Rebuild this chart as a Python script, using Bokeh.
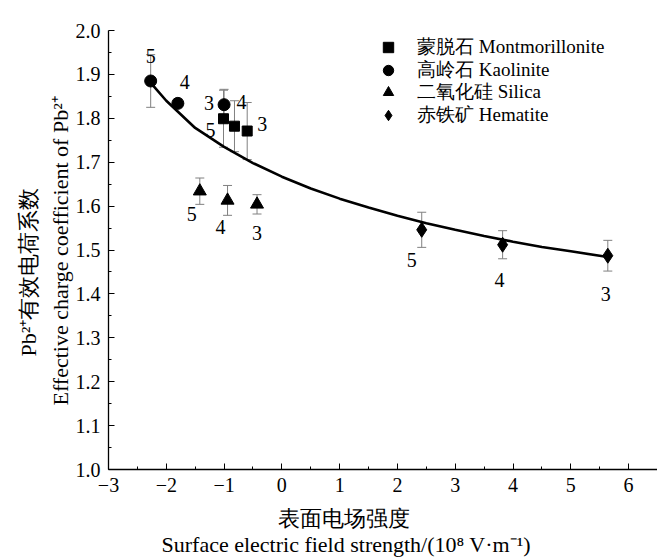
from bokeh.plotting import figure
from bokeh.models import (ColumnDataSource, Whisker, TeeHead, Title, Legend, LegendItem,
                          FixedTicker, Range1d)
from bokeh.embed import file_html
from bokeh.resources import INLINE
from bokeh.core.properties import value

SERIF = "Liberation Serif"

# ---------------- data ----------------
mont_x = [-1.01, -0.82, -0.60]
mont_y = [1.799, 1.782, 1.771]
mont_err = [0.065, 0.058, 0.065]
mont_lbl = ["5", "4", "3"]

kaol_x = [-2.27, -1.80, -1.00]
kaol_y = [1.885, 1.834, 1.831]
kaol_err = [0.06, 0.01, 0.035]
kaol_lbl = ["5", "4", "3"]

sil_x = [-1.42, -0.94, -0.43]
sil_y = [1.634, 1.613, 1.604]
sil_err = [0.03, 0.034, 0.022]
sil_lbl = ["5", "4", "3"]

hem_x = [2.42, 3.82, 5.64]
hem_y = [1.546, 1.512, 1.487]
hem_err = [0.04, 0.032, 0.035]
hem_lbl = ["5", "4", "3"]

fit_x = [-2.25, -2.0, -1.5, -1.0, -0.5, 0.0, 0.5, 1.0, 1.5, 2.0, 2.5, 3.0, 3.5, 4.0, 4.5, 5.0, 5.64]
fit_y = [1.878, 1.840, 1.778, 1.735, 1.698, 1.667, 1.640, 1.617, 1.597, 1.578, 1.561, 1.546,
         1.532, 1.519, 1.507, 1.497, 1.484]

x_ticks = [-3, -2, -1, 0, 1, 2, 3, 4, 5, 6]
y_ticks = [1.0, 1.1, 1.2, 1.3, 1.4, 1.5, 1.6, 1.7, 1.8, 1.9, 2.0]

legend_names = ["蒙脱石 Montmorillonite", "高岭石 Kaolinite", "二氧化硅 Silica", "赤铁矿 Hematite"]

x_title_cn = "表面电场强度"
x_title_en = "Surface electric field strength/(10\u2078 V\u00b7m\u207b\u00b9)"
y_title_cn = "Pb\u00b2\u207a有效电荷系数"
y_title_en = "Effective charge coefficient of Pb\u00b2\u207a"

# label offsets (screen px: right, down) -- styling only
mont_off = [(-13, 11), (7, -24), (15, -7)]
kaol_off = [(0, -25), (7, -21), (-15, -2)]
sil_off = [(-8, 23), (-7, 27), (0, 29)]
hem_off = [(-10, 30), (-3, 35), (-2, 38)]

# ---------------- figure ----------------
p = figure(width=657, height=559, x_range=Range1d(-3, 6.5), y_range=Range1d(1.0, 2.0),
           output_backend="svg", toolbar_location=None,
           min_border_left=108, min_border_right=0, min_border_top=30, min_border_bottom=90)
p.outline_line_color = None
p.grid.visible = False
p.background_fill_color = "white"

for ax in (p.xaxis[0], p.yaxis[0]):
    ax.axis_line_color = "black"
    ax.axis_line_width = 1.3
    ax.major_tick_in = 6
    ax.major_tick_out = 0
    ax.minor_tick_in = 3
    ax.minor_tick_out = 0
    ax.major_tick_line_color = "black"
    ax.minor_tick_line_color = "black"
    ax.major_label_text_font = SERIF
    ax.major_label_text_font_size = "20px"
    ax.major_label_text_color = "black"
    ax.major_label_standoff = 8

p.xaxis.ticker = FixedTicker(ticks=x_ticks, minor_ticks=[t + 0.5 for t in x_ticks])
p.xaxis.major_label_overrides = {t: (("\u2212" + str(-t)) if t < 0 else str(t)) for t in x_ticks}
p.yaxis.ticker = FixedTicker(ticks=y_ticks, minor_ticks=[round(t + 0.05, 2) for t in y_ticks[:-1]])
p.yaxis.major_label_overrides = {t: f"{t:.1f}" for t in y_ticks}

# fitted curve
p.line(fit_x, fit_y, line_color="black", line_width=2.6)

series = [
    (mont_x, mont_y, mont_err, mont_lbl, mont_off, "square", 10),
    (kaol_x, kaol_y, kaol_err, kaol_lbl, kaol_off, "circle", 12),
    (sil_x, sil_y, sil_err, sil_lbl, sil_off, "triangle", 13),
    (hem_x, hem_y, hem_err, hem_lbl, hem_off, "diamond", 15),
]

renderers = []
for xs, ys, errs, lbls, offs, marker, size in series:
    src = ColumnDataSource(dict(
        x=xs, y=ys,
        upper=[y + e for y, e in zip(ys, errs)],
        lower=[y - e for y, e in zip(ys, errs)],
        text=lbls,
        dx=[o[0] for o in offs], dy=[o[1] for o in offs],
    ))
    w = Whisker(source=src, base="x", upper="upper", lower="lower", dimension="height",
                line_color="#808080", line_width=1,
                upper_head=TeeHead(size=9, line_color="#808080", line_width=1),
                lower_head=TeeHead(size=9, line_color="#808080", line_width=1))
    p.add_layout(w)
    r = p.scatter("x", "y", source=src, marker=marker, size=size,
                  fill_color="black", line_color="black")
    renderers.append(r)
    p.text("x", "y", text="text", source=src, x_offset="dx", y_offset="dy",
           text_font=value(SERIF), text_font_size="20px", text_align="center",
           text_baseline="middle", text_color="black")

# legend: one single-item legend per entry, stacked 22.7 px apart
for i, (name, r) in enumerate(zip(legend_names, renderers)):
    lg = Legend(items=[LegendItem(label=name, renderers=[r])],
                location=(266, round(409 - 22.7 * i)), orientation="vertical")
    lg.background_fill_alpha = 0
    lg.border_line_color = None
    lg.padding = 0
    lg.margin = 0
    lg.spacing = 0
    lg.glyph_width = 28
    lg.glyph_height = 26
    lg.label_height = 22
    lg.label_standoff = 15
    lg.label_text_font = SERIF
    lg.label_text_font_size = "19px"
    lg.label_text_color = "black"
    p.add_layout(lg, "center")

# axis titles
def mk_title(text, standoff, offset):
    return Title(text=text, align="left", offset=offset, standoff=standoff,
                 text_font=SERIF, text_font_size="22px", text_font_style="normal",
                 text_color="black")

p.add_layout(mk_title(x_title_cn, 18, 169), "below")
p.add_layout(mk_title(x_title_en, -20, 53), "below")
p.add_layout(mk_title(y_title_en, 0, 64), "left")
p.add_layout(mk_title(y_title_cn, 9, 113), "left")

open("out.html", "w").write(file_html(p, INLINE))
